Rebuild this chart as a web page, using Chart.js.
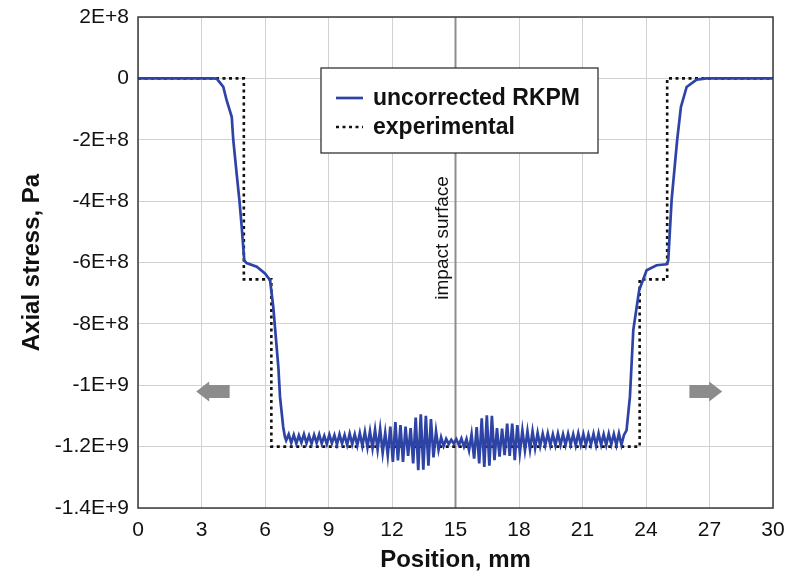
<!DOCTYPE html>
<html>
<head>
<meta charset="utf-8">
<script src="https://cdn.jsdelivr.net/npm/chart.js@4.4.0/dist/chart.umd.min.js"></script>
<style>
  html, body { margin: 0; padding: 0; background: #ffffff; }
  #wrap { width: 788px; height: 577px; }
</style>
</head>
<body>
<div id="wrap"><canvas id="c" width="788" height="577"></canvas></div>
<script>
// Axial stress along the bar. Positions in mm, stresses in units of 1E+8 Pa.

// RKPM solution: unloading front on the left side
const rkpmLeftPos = [0, 3.5, 3.72, 4.03, 4.19, 4.43, 4.5, 4.66, 4.79, 4.9, 5.02, 5.13, 5.61, 6.0, 6.24, 6.39, 6.47, 6.63, 6.71, 6.86, 6.94];
const rkpmLeftStress = [0, 0, -0.01, -0.28, -0.72, -1.26, -2.0, -3.1, -3.97, -4.84, -5.93, -6.02, -6.14, -6.36, -6.58, -7.45, -8.1, -9.4, -10.38, -11.36, -11.68];

// RKPM solution: oscillating compressed plateau, sampled every 0.12 mm from 7.0 mm
const rkpmRippleStart = 7.0;
const rkpmRippleStep = 0.12;
const rkpmRippleStress = [
  -11.80, -11.60, -11.88, -11.62, -11.90, -11.63, -11.87, -11.60, -11.89, -11.64,
  -11.91, -11.62, -11.88, -11.60, -11.90, -11.65, -11.92, -11.61, -11.89, -11.63,
  -11.93, -11.60, -11.90, -11.62, -11.94, -11.58, -11.92, -11.60, -11.96, -11.56,
  -11.98, -11.52, -12.02, -11.50, -12.05, -11.45, -12.10, -11.42, -12.20, -11.55,
  -12.28, -11.35, -12.50, -11.20, -12.45, -11.30, -12.50, -11.35, -12.30, -11.40,
  -12.55, -11.05, -12.77, -10.95, -12.75, -11.00, -12.62, -11.10, -12.35, -11.50,
  -12.10, -11.70, -11.98, -11.75, -11.92, -11.78, -11.90, -11.76, -11.95, -11.74,
  -12.00, -11.75, -12.12, -11.60, -12.39, -11.36, -12.55, -11.08, -12.66, -10.98,
  -12.62, -11.00, -12.44, -11.40, -12.33, -11.41, -12.28, -11.25, -12.30, -11.25,
  -12.44, -11.30, -12.20, -11.47, -12.12, -11.50, -12.10, -11.50, -12.05, -11.55,
  -11.98, -11.58, -11.96, -11.57, -11.95, -11.60, -11.96, -11.58, -11.94, -11.60,
  -11.95, -11.58, -11.93, -11.60, -11.96, -11.57, -11.94, -11.59, -11.95, -11.60,
  -11.93, -11.58, -11.96, -11.57, -11.94, -11.60, -11.95, -11.58, -11.93, -11.59,
  -11.95, -11.57, -11.94, -11.62
];

// RKPM solution: unloading front on the right side
const rkpmRightPos = [23.08, 23.24, 23.4, 23.56, 23.68, 24.03, 24.5, 24.97, 25.05, 25.21, 25.47, 25.65, 25.92, 26.39, 26.87, 30];
const rkpmRightStress = [-11.47, -10.38, -8.2, -7.45, -6.9, -6.25, -6.09, -6.06, -5.93, -3.97, -2.02, -0.93, -0.28, -0.04, 0, 0];

// Experimental stepped profile
const expPos = [0, 5.0, 5.0, 6.3, 6.3, 23.7, 23.7, 25.0, 25.0, 30];
const expStress = [0, 0, -6.55, -6.55, -12, -12, -6.55, -6.55, 0, 0];

const seriesNames = ['uncorrected RKPM', 'experimental'];
const xTicks = [0, 3, 6, 9, 12, 15, 18, 21, 24, 27, 30];
const yTickValues = [-1.4e9, -1.2e9, -1e9, -8e8, -6e8, -4e8, -2e8, 0, 2e8];
const yTickLabels = ['-1.4E+9', '-1.2E+9', '-1E+9', '-8E+8', '-6E+8', '-4E+8', '-2E+8', '0', '2E+8'];
const impactPos = 15;
const impactLabel = 'impact surface';
const xTitle = 'Position, mm';
const yTitle = 'Axial stress, Pa';

const UNIT = 1e8;

// Assemble the RKPM curve as {x, y} points
const rkpmPoints = [];
rkpmLeftPos.forEach((p, i) => rkpmPoints.push({ x: p, y: rkpmLeftStress[i] * UNIT }));
rkpmRippleStress.forEach((s, i) => rkpmPoints.push({ x: +(rkpmRippleStart + i * rkpmRippleStep).toFixed(2), y: s * UNIT }));
rkpmRightPos.forEach((p, i) => rkpmPoints.push({ x: p, y: rkpmRightStress[i] * UNIT }));

const expPoints = expPos.map((p, i) => ({ x: p, y: expStress[i] * UNIT }));

const FONT = '"Liberation Sans", Arial, sans-serif';
const BLUE = '#2d43a6';

// Block arrows marking the travel direction of the unloading waves
const waveArrows = [
  { tip: 2.75, tail: 4.33, level: -1.02e9 },
  { tip: 27.6, tail: 26.05, level: -1.02e9 }
];

const overlay = {
  id: 'overlay',
  beforeDatasetsDraw(chart) {
    const { ctx, chartArea: a, scales: { x } } = chart;
    const px = x.getPixelForValue(impactPos);
    ctx.save();
    ctx.strokeStyle = '#8e8e8e';
    ctx.lineWidth = 2;
    ctx.beginPath();
    ctx.moveTo(px, a.top);
    ctx.lineTo(px, a.bottom);
    ctx.stroke();
    ctx.restore();
  },
  afterDraw(chart) {
    const { ctx, chartArea: a, scales: { x, y } } = chart;
    ctx.save();

    // plot frame
    ctx.strokeStyle = '#3a3a3a';
    ctx.lineWidth = 1.5;
    ctx.strokeRect(a.left, a.top, a.right - a.left, a.bottom - a.top);

    // impact surface label
    const lx = x.getPixelForValue(impactPos) - 13;
    const ly = y.getPixelForValue(-5.2e8);
    ctx.save();
    ctx.translate(lx, ly);
    ctx.rotate(-Math.PI / 2);
    ctx.fillStyle = '#111';
    ctx.font = '19px ' + FONT;
    ctx.textAlign = 'center';
    ctx.textBaseline = 'middle';
    ctx.fillText(impactLabel, 0, 0);
    ctx.restore();

    // wave direction arrows
    ctx.fillStyle = '#8c8c8c';
    waveArrows.forEach(w => {
      const tx = x.getPixelForValue(w.tip);
      const bx = x.getPixelForValue(w.tail);
      const cy = y.getPixelForValue(w.level);
      const dir = Math.sign(bx - tx);
      const head = 13, hh = 10, bh = 6.5;
      ctx.beginPath();
      ctx.moveTo(tx, cy);
      ctx.lineTo(tx + dir * head, cy - hh);
      ctx.lineTo(tx + dir * head, cy - bh);
      ctx.lineTo(bx, cy - bh);
      ctx.lineTo(bx, cy + bh);
      ctx.lineTo(tx + dir * head, cy + bh);
      ctx.lineTo(tx + dir * head, cy + hh);
      ctx.closePath();
      ctx.fill();
    });

    // legend
    const bxL = a.left + 183, byT = a.top + 51, bw = 277, bhgt = 85;
    ctx.fillStyle = '#ffffff';
    ctx.fillRect(bxL, byT, bw, bhgt);
    ctx.strokeStyle = '#222';
    ctx.lineWidth = 1.2;
    ctx.strokeRect(bxL, byT, bw, bhgt);
    ctx.font = 'bold 23px ' + FONT;
    ctx.textBaseline = 'middle';
    ctx.textAlign = 'left';
    chart.data.datasets.forEach((ds, i) => {
      const yy = byT + 30 + i * 29;
      ctx.save();
      ctx.strokeStyle = ds.borderColor;
      ctx.lineWidth = ds.borderWidth;
      ctx.setLineDash(ds.borderDash || []);
      ctx.beginPath();
      ctx.moveTo(bxL + 15, yy);
      ctx.lineTo(bxL + 42, yy);
      ctx.stroke();
      ctx.restore();
      ctx.fillStyle = '#111';
      ctx.fillText(ds.label, bxL + 52, yy + 1);
    });

    ctx.restore();
  }
};

new Chart(document.getElementById('c'), {
  type: 'line',
  data: {
    datasets: [
      {
        label: seriesNames[0],
        data: rkpmPoints,
        borderColor: BLUE,
        borderWidth: 2.7,
        pointRadius: 0,
        tension: 0,
        fill: false
      },
      {
        label: seriesNames[1],
        data: expPoints,
        borderColor: '#111111',
        borderWidth: 2.6,
        borderDash: [3, 3.5],
        pointRadius: 0,
        tension: 0,
        fill: false
      }
    ]
  },
  options: {
    responsive: false,
    animation: false,
    layout: { padding: { top: 17, right: 15, left: 0, bottom: 0 } },
    plugins: { legend: { display: false }, tooltip: { enabled: false } },
    scales: {
      x: {
        type: 'linear',
        min: 0,
        max: 30,
        afterBuildTicks: s => { s.ticks = xTicks.map(v => ({ value: v })); },
        afterFit: s => { s.height = 69; s.paddingLeft = 0; s.paddingRight = 0; },
        grid: { color: '#d2d2d2', lineWidth: 1, drawTicks: false },
        border: { display: false },
        ticks: { color: '#111', font: { family: FONT, size: 21 }, padding: 10, maxRotation: 0, autoSkip: false },
        title: { display: true, text: xTitle, color: '#111', font: { family: FONT, size: 24, weight: 'bold' }, padding: { top: 0, bottom: 2 } }
      },
      y: {
        type: 'linear',
        min: -1.4e9,
        max: 2e8,
        afterBuildTicks: s => { s.ticks = yTickValues.map(v => ({ value: v })); },
        afterFit: s => { s.width = 138; s.paddingTop = 0; s.paddingBottom = 0; },
        grid: { color: '#d2d2d2', lineWidth: 1, drawTicks: false },
        border: { display: false },
        ticks: { color: '#111', font: { family: FONT, size: 21 }, padding: 9, callback: (v, i) => yTickLabels[i] },
        title: { display: true, text: yTitle, color: '#111', font: { family: FONT, size: 24, weight: 'bold' }, padding: { top: 18, bottom: 0 } }
      }
    }
  },
  plugins: [overlay]
});
</script>
</body>
</html>
